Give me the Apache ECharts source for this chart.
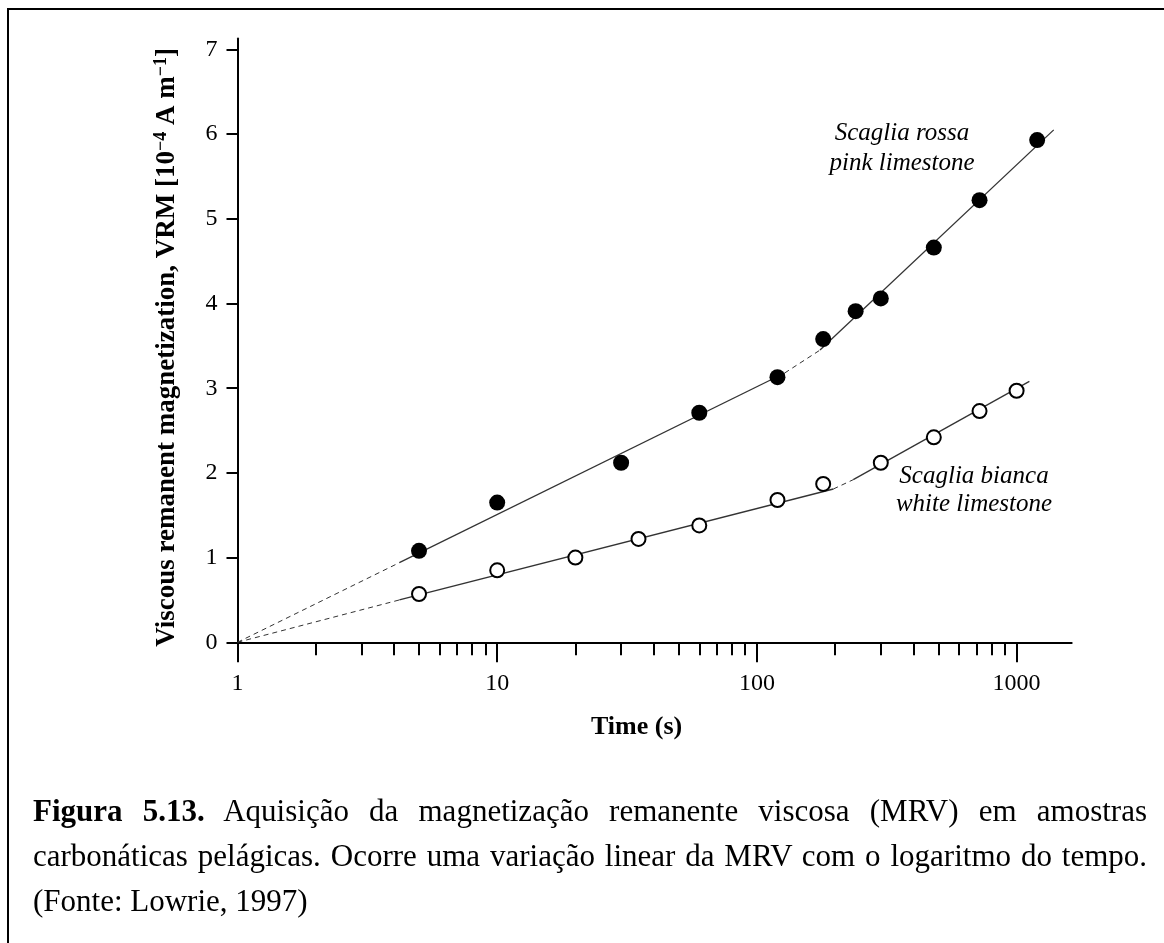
<!DOCTYPE html>
<html>
<head>
<meta charset="utf-8">
<script src="https://cdn.jsdelivr.net/npm/echarts@6/dist/echarts.min.js"></script>
<style>
  html, body { margin: 0; padding: 0; background: #fff; }
  #chart { position: absolute; left: 0; top: 0; width: 1164px; height: 943px; }
  .frame { position: absolute; left: 7px; top: 8px; width: 1300px; height: 1100px;
           border-left: 2px solid #000; border-top: 2px solid #000; pointer-events: none; }
  .caption { position: absolute; left: 33px; top: 788px; width: 1114px;
             font-family: "Liberation Serif", "Times New Roman", serif; font-size: 31px; color: #000; }
  .caption div { line-height: 45px; height: 45px; white-space: nowrap; }
  .caption .j { text-align: justify; text-align-last: justify; white-space: normal; }
</style>
</head>
<body>
<div id="chart"></div>
<div class="frame"></div>
<div class="caption">
  <div class="j"><b>Figura 5.13.</b> Aquisição da magnetização remanente viscosa (MRV) em amostras</div>
  <div class="j">carbonáticas pelágicas. Ocorre uma variação linear da MRV com o logaritmo do tempo.</div>
  <div>(Fonte: Lowrie, 1997)</div>
</div>
<script>
  // dados (tempo em s, VRM em 10^-4 A/m)
  const timeRossa = [5, 10, 30, 60, 120, 180, 240, 300, 480, 720, 1200];
  const vrmRossa = [1.08, 1.65, 2.12, 2.71, 3.13, 3.58, 3.91, 4.06, 4.66, 5.22, 5.93];
  const timeBianca = [5, 10, 20, 35, 60, 120, 180, 300, 480, 720, 1000];
  const vrmBianca = [0.57, 0.85, 1.00, 1.22, 1.38, 1.68, 1.87, 2.12, 2.42, 2.73, 2.97];

  // retas ajustadas: tracejado, cheio, tracejado, cheio
  const rossaGuideT = [1, 4.2, 128, 175, 1390];
  const rossaGuideV = [0, 0.94, 3.18, 3.45, 6.05];
  const biancaGuideT = [1, 4.2, 197, 235, 1120];
  const biancaGuideV = [0, 0.50, 1.81, 1.92, 3.08];

  const majorTicks = [1, 10, 100, 1000];
  const minorTicks = [2, 3, 4, 5, 6, 7, 8, 9, 20, 30, 40, 50, 60, 70, 80, 90,
                      200, 300, 400, 500, 600, 700, 800, 900];
  const yTicks = [0, 1, 2, 3, 4, 5, 6, 7];
  const xMax = 1630;
  const yMax = 7.13;

  const serif = '"Liberation Serif", "Times New Roman", serif';

  function pairs(ts, vs) {
    return ts.map((t, i) => [t, vs[i]]);
  }

  function guide(ts, vs) {
    const out = [];
    for (let i = 0; i < ts.length - 1; i++) {
      const dashed = i % 2 === 0;
      out.push({
        type: 'line',
        xAxisIndex: 0,
        data: [[ts[i], vs[i]], [ts[i + 1], vs[i + 1]]],
        symbol: 'none',
        silent: true,
        lineStyle: dashed
          ? { color: '#333', width: 1, type: [5, 4] }
          : { color: '#333', width: 1.3 },
        z: 1
      });
    }
    return out;
  }

  let mychart = echarts.init(document.getElementById('chart'));

  let option = {
    backgroundColor: '#fff',
    animation: false,
    grid: { left: 237.5, right: 92.3, top: 38.4, bottom: 300.7 },
    xAxis: [
      {
        type: 'log', logBase: 10, min: 1, max: xMax,
        position: 'bottom',
        axisLine: { lineStyle: { color: '#000', width: 2 } },
        axisTick: { show: false },
        axisLabel: { show: false },
        splitLine: { show: false },
        name: 'Time (s)',
        nameLocation: 'middle',
        nameGap: 72,
        nameTextStyle: { fontFamily: serif, fontWeight: 'bold', fontSize: 26, color: '#000',
                         padding: [0, 36, 0, 0] }
      },
      {
        // ticks principais da escala log
        type: 'value', min: 0, max: Math.log10(xMax),
        position: 'bottom',
        axisLine: { show: false },
        axisTick: { show: true, inside: false, length: 20, customValues: majorTicks.map(Math.log10),
                    lineStyle: { color: '#000', width: 2 } },
        axisLabel: { customValues: majorTicks.map(Math.log10), margin: 29,
                     fontFamily: serif, fontSize: 24, color: '#000',
                     formatter: v => String(Math.round(Math.pow(10, v))) },
        splitLine: { show: false }
      },
      {
        // ticks secundarios
        type: 'value', min: 0, max: Math.log10(xMax),
        position: 'bottom',
        axisLine: { show: false },
        axisTick: { show: true, inside: false, length: 13, customValues: minorTicks.map(Math.log10),
                    lineStyle: { color: '#000', width: 2 } },
        axisLabel: { show: false },
        splitLine: { show: false }
      }
    ],
    yAxis: {
      type: 'value', min: 0, max: yMax,
      axisLine: { show: true, onZero: false, lineStyle: { color: '#000', width: 2 } },
      axisTick: { show: true, length: 11, customValues: yTicks, lineStyle: { color: '#000', width: 2 } },
      axisLabel: { customValues: yTicks, margin: 20, fontFamily: serif, fontSize: 24, color: '#000' },
      splitLine: { show: false },
      name: '{b|Viscous remanent magnetization, VRM [10}{s|−4}{b| A m}{s|−1}{b|]}',
      nameLocation: 'middle',
      nameGap: 57,
      nameTextStyle: {
        padding: [0, 14, 0, 0],
        rich: {
          b: { fontFamily: serif, fontWeight: 'bold', fontSize: 27, color: '#000',
               lineHeight: 28, verticalAlign: 'bottom' },
          s: { fontFamily: serif, fontWeight: 'bold', fontSize: 18, color: '#000',
               lineHeight: 18, verticalAlign: 'top', padding: [0, 0, 24, 0] }
        }
      }
    },
    graphic: [
      { type: 'text', x: 902, y: 133, style: { text: 'Scaglia rossa', font: 'italic 25px ' + serif,
        fill: '#000', align: 'center', verticalAlign: 'middle' } },
      { type: 'text', x: 902, y: 163, style: { text: 'pink limestone', font: 'italic 25px ' + serif,
        fill: '#000', align: 'center', verticalAlign: 'middle' } },
      { type: 'text', x: 974, y: 476, style: { text: 'Scaglia bianca', font: 'italic 25px ' + serif,
        fill: '#000', align: 'center', verticalAlign: 'middle' } },
      { type: 'text', x: 974, y: 504, style: { text: 'white limestone', font: 'italic 25px ' + serif,
        fill: '#000', align: 'center', verticalAlign: 'middle' } }
    ],
    series: [
      ...guide(rossaGuideT, rossaGuideV),
      ...guide(biancaGuideT, biancaGuideV),
      {
        name: 'Scaglia rossa', type: 'scatter', xAxisIndex: 0,
        data: pairs(timeRossa, vrmRossa),
        symbol: 'circle', symbolSize: 16,
        itemStyle: { color: '#000', opacity: 1 },
        z: 3
      },
      {
        name: 'Scaglia bianca', type: 'scatter', xAxisIndex: 0,
        data: pairs(timeBianca, vrmBianca),
        symbol: 'circle', symbolSize: 14,
        itemStyle: { color: '#fff', borderColor: '#000', borderWidth: 2, opacity: 1 },
        z: 3
      }
    ]
  };

  mychart.setOption(option);
</script>
</body>
</html>
